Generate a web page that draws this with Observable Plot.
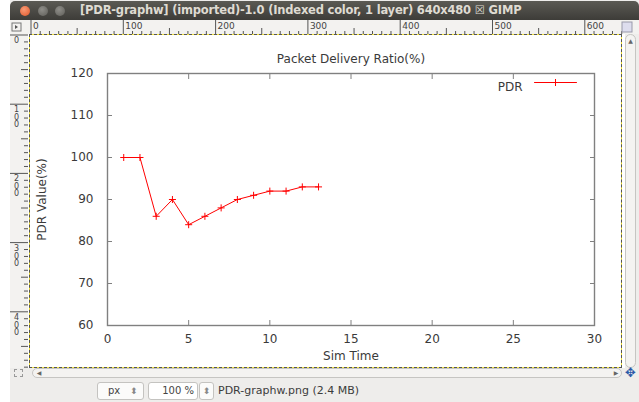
<!DOCTYPE html>
<html><head><meta charset="utf-8">
<script src="https://cdn.jsdelivr.net/npm/d3@7"></script>
<script src="https://cdn.jsdelivr.net/npm/@observablehq/plot@0.6"></script>
<style>
html,body{margin:0;padding:0;}
body{width:639px;height:402px;position:relative;overflow:hidden;background:#fff;font-family:"DejaVu Sans",sans-serif;}
.a{position:absolute;box-sizing:border-box;}
.vl{position:absolute;writing-mode:vertical-lr;text-orientation:upright;font-size:8px;line-height:8px;letter-spacing:-1.5px;color:#444;}
</style></head><body>
<div class="a" style="left:10px;top:0;width:629px;height:402px;background:#eeedeb;"></div>
<div class="a" style="left:10px;top:1px;width:629px;height:19px;background:linear-gradient(#5b5a54,#3d3c38);border-radius:5px 5px 0 0;"></div>
<div class="a" style="left:20px;top:6px;width:10px;height:10px;border-radius:50%;background:radial-gradient(circle at 40% 35%,#f79a75,#e0572a);"></div>
<div class="a" style="left:38px;top:6px;width:10px;height:10px;border-radius:50%;background:radial-gradient(circle at 40% 35%,#8f8e89,#5e5d58);"></div>
<div class="a" style="left:55px;top:6px;width:10px;height:10px;border-radius:50%;background:radial-gradient(circle at 40% 35%,#8f8e89,#5e5d58);"></div>
<div class="a" style="left:80px;top:3px;color:#dfdbd2;font:bold 11.5px 'DejaVu Sans';white-space:nowrap;letter-spacing:-0.2px;">[PDR-graphw] (imported)-1.0 (Indexed color, 1 layer) 640x480 ☒ GIMP</div>
<div class="a" style="left:28px;top:33px;width:597px;height:335px;background:#fff;"></div>
<div class="a" style="left:29px;top:34px;width:593px;height:334px;border:1px dashed #555;background:#f2e23a;"></div>
<div class="a" style="left:30px;top:35px;width:591px;height:332px;background:#fff;"></div>
<div class="a" id="chart" style="left:30px;top:35px;"></div>
<div class="a" style="left:625px;top:34px;width:11px;height:334px;border:1px solid #c6c5c2;border-radius:6px;background:#f4f3f1;"></div>
<div class="a" style="left:627px;top:37px;width:7px;height:7px;color:#666;font-size:6px;line-height:7px;text-align:center;">▲</div>
<div class="a" style="left:32px;top:368px;width:590px;height:10px;border:1px solid #c6c5c2;border-radius:6px;background:#f4f3f1;"></div>
<div class="a" style="left:612px;top:369px;width:8px;height:8px;color:#666;font-size:6px;line-height:8px;text-align:center;">▶</div>
<div class="a" style="left:35px;top:369px;width:8px;height:8px;color:#666;font-size:6px;line-height:8px;text-align:center;">◀</div>
<div class="a" style="left:625px;top:366px;color:#2a5aa8;font-size:13px;line-height:13px;">✥</div>
<div class="a" style="left:14px;top:369px;width:9px;height:8px;border:1px dashed #999;"></div>
<div class="a" style="left:97px;top:382px;width:47px;height:18px;border:1px solid #c4c3c0;border-radius:3px;background:#fbfbfa;font-size:10px;color:#444;line-height:16px;padding-left:10px;">px<span style="position:absolute;left:32px;color:#888;font-size:9px;">⬍</span></div>
<div class="a" style="left:148px;top:382px;width:50px;height:18px;border:1px solid #c4c3c0;border-radius:3px;background:#fff;font-size:10px;color:#444;line-height:16px;text-align:right;padding-right:3px;">100 %</div>
<div class="a" style="left:199px;top:382px;width:15px;height:18px;border:1px solid #c4c3c0;border-radius:3px;background:#fbfbfa;font-size:9px;color:#888;line-height:16px;text-align:center;">⬍</div>
<div class="a" style="left:218px;top:384px;font-size:11px;color:#3c3c3c;white-space:nowrap;">PDR-graphw.png (2.4 MB)</div>
<script>
// ---- chart data ----
const simTime = [1, 2, 3, 4, 5, 6, 7, 8, 9, 10, 11, 12, 13];
const pdrValues = [100, 100, 86, 90, 84, 86, 88, 90, 91, 92, 92, 93, 93];
const xTicks = [0, 5, 10, 15, 20, 25, 30];
const yTicks = [60, 70, 80, 90, 100, 110, 120];
const chartTitle = "Packet Delivery Ratio(%)";
const xLabel = "Sim Time";
const yLabel = "PDR Value(%)";
const seriesName = "PDR";

const rows = simTime.map((t, i) => ({t, v: pdrValues[i]}));
const red = "#ff0000";
const frameColor = "#808080";

const plot = Plot.plot({
  width: 591, height: 332,
  marginLeft: 77, marginRight: 27, marginTop: 38, marginBottom: 42,
  style: {fontFamily: "'DejaVu Sans', sans-serif", fontSize: "12px", color: "#3a3a3a", background: "transparent", overflow: "visible"},
  x: {domain: [0, 30]},
  y: {domain: [60, 120]},
  marks: [
    Plot.frame({stroke: frameColor, strokeWidth: 1.4}),
    Plot.axisX(xTicks, {anchor: "bottom", tickSize: -5, tickPadding: 14, stroke: frameColor, label: null}),
    Plot.axisX(xTicks, {anchor: "top", tickSize: -5, tickFormat: () => "", stroke: frameColor, label: null}),
    Plot.axisY(yTicks, {anchor: "left", tickSize: -5, tickPadding: 19, stroke: frameColor, label: null}),
    Plot.axisY(yTicks, {anchor: "right", tickSize: -5, tickFormat: () => "", stroke: frameColor, label: null}),
    Plot.text([chartTitle], {frameAnchor: "top", dy: -19}),
    Plot.text([xLabel], {frameAnchor: "bottom", dy: 34}),
    Plot.text([yLabel], {frameAnchor: "left", dx: -65, rotate: -90, textAnchor: "middle"}),
    Plot.line(rows, {x: "t", y: "v", stroke: red, strokeWidth: 1}),
    Plot.dot(rows, {x: "t", y: "v", symbol: "plus", r: 2.4, stroke: red, strokeWidth: 1}),
    Plot.text([seriesName], {frameAnchor: "top-right", dx: -72, dy: 9, textAnchor: "end"}),
    Plot.vector([seriesName], {frameAnchor: "top-right", dx: -60, dy: 9, rotate: 90, length: 42, anchor: "start", stroke: red, strokeWidth: 1,
      shape: {draw(ctx, l) { ctx.moveTo(0, 0); ctx.lineTo(0, -l); }}}),
    Plot.dot([seriesName], {frameAnchor: "top-right", dx: -39, dy: 9, symbol: "plus", r: 2.4, stroke: red, strokeWidth: 1})
  ]
});
document.getElementById("chart").appendChild(plot);

// ---- GIMP rulers (window chrome) ----
(function () {
  const h = d3.select("body").append("svg").attr("class", "a")
    .style("left", "10px").style("top", "20px").attr("width", 629).attr("height", 14);
  h.append("rect").attr("width", 629).attr("height", 14).attr("fill", "#f3f2f0");
  h.append("rect").attr("x", 2).attr("y", 3).attr("width", 9).attr("height", 8).attr("fill", "none").attr("stroke", "#777");
  h.append("path").attr("d", "M5,5 L8,7 L5,9 Z").attr("fill", "#555");
  const x0 = 21, sx = 9.23;
  for (let i = 0; i <= 64; i++) {
    const x = x0 + i * sx;
    const len = i % 10 === 0 ? 14 : i % 5 === 0 ? 6 : 3;
    h.append("line").attr("x1", x).attr("x2", x).attr("y1", 14 - len).attr("y2", 14).attr("stroke", "#555").attr("stroke-width", 1);
    if (i % 10 === 0) h.append("text").attr("x", x + 2).attr("y", 9).attr("font-size", 9).attr("fill", "#444").text(i * 10);
  }
  h.append("rect").attr("x", 612).attr("y", 2).attr("width", 10).attr("height", 10).attr("fill", "#dde").attr("stroke", "#99a");
  const v = d3.select("body").append("svg").attr("class", "a")
    .style("left", "10px").style("top", "33px").attr("width", 18).attr("height", 335);
  v.append("rect").attr("width", 18).attr("height", 335).attr("fill", "#f3f2f0");
  const y0 = 2, sy = 6.92;
  for (let i = 0; i <= 48; i++) {
    const y = y0 + i * sy;
    const len = i % 10 === 0 ? 18 : i % 5 === 0 ? 7 : 4;
    v.append("line").attr("x1", 18 - len).attr("x2", 18).attr("y1", y).attr("y2", y).attr("stroke", "#555").attr("stroke-width", 1);
    if (i % 10 === 0) {
      const d = document.createElement("div");
      d.className = "vl";
      d.style.left = "12px";
      d.style.top = (33 + y + 1) + "px";
      d.textContent = String(i * 10);
      document.body.appendChild(d);
    }
  }
})();
</script>
</body></html>
